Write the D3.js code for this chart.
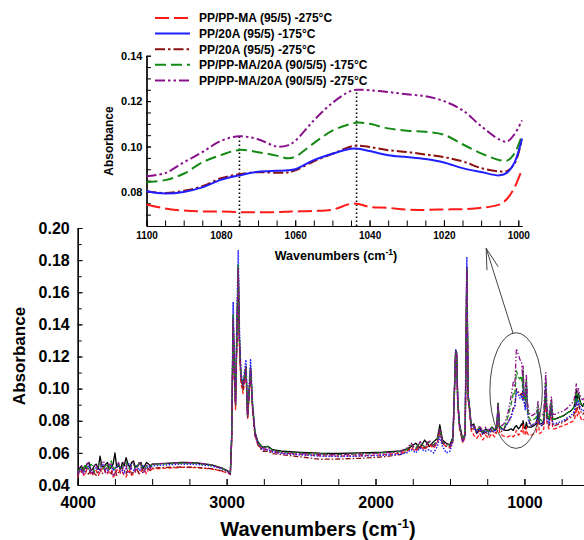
<!DOCTYPE html>
<html>
<head>
<meta charset="utf-8">
<script src="https://cdn.jsdelivr.net/npm/d3@7"></script>
<style>
body{margin:0;background:#fff}
svg{display:block}
</style>
</head>
<body>
<script>
let width = 584
let height = 540
let font = "'Liberation Sans', Arial, sans-serif"

// main spectrum: one wavenumber grid shared by every series
let mainWavenumbers = [
  4000,3988,3975,3962,3950,3938,3925,3912,3900,3888,3875,3862,3850,3838,3825,3812,3800,3788,3775,3762,
  3750,3738,3725,3712,3700,3688,3675,3662,3650,3638,3625,3612,3600,3588,3575,3562,3550,3538,3525,3512,3500,
  3400,3300,3200,3100,3030,2995,2982,
  2975,2966,2956,2948,2940,2930,2922,2914,2904,2890,2870,2859,2839,2826,2810,2790,2760,2721,2690,2620,
  2500,2374,2250,2100,1950,1830,
  1790,1760,1730,1700,1670,1640,1610,1585,1568,1550,1525,1500,
  1480,1470,1462,1455,1448,1436,1414,1398,1387,1378,1370,1357,
  1340,1320,1300,1280,1260,1240,1220,1200,1185,1177,1168,1150,1130,
  1110,1090,1075,1065,1054,1040,1030,1020,1013,1009,1003,994,987,980,970,955,935,920,909,898,
  885,870,857,848,835,819,810,795,770,740,710,690,670,660,652,645,637,628,618,608,600
]

let mainBlack = [
  .047,.050,.052,.049,.051,.053,.054,.049,.050,.052,.053,.050,.058,.052,.051,.053,.054,.050,.051,.053,
  .060,.051,.052,.050,.054,.052,.057,.053,.051,.054,.055,.051,.052,.053,.054,.050,.052,.054,.053,.052,.053,
  .0535,.054,.0537,.0525,.0505,.049,.048,
  .0475,.070,.145,.110,.091,.140,.176,.131,.108,.101,.114,.083,.113,.090,.073,.067,.0635,.064,.062,.061,
  .0603,.0598,.0596,.060,.0605,.0612,
  .0625,.064,.066,.063,.068,.064,.067,.069,.0775,.068,.066,.065,
  .070,.100,.124,.122,.093,.078,.068,.072,.176,.096,.090,.077,
  .078,.072,.076,.072,.075,.073,.076,.074,.077,.091,.077,.075,.074,
  .074,.075,.074,.076,.077,.075,.076,.078,.077,.080,.076,.075,.079,.076,.076,.076,.077,.078,.084,.078,
  .078,.080,.095,.082,.081,.090,.081,.081,.082,.083,.085,.086,.088,.091,.099,.092,.097,.093,.090,.089,.091
]

let mainRed = [
  .045,.048,.049,.046,.047,.050,.050,.047,.046,.049,.049,.046,.048,.050,.051,.047,.047,.049,.049,.045,
  .046,.049,.050,.047,.048,.046,.045,.048,.049,.046,.047,.049,.050,.047,.048,.050,.049,.047,.050,.049,.050,
  .0505,.051,.0508,.050,.0485,.0475,.047,
  .0465,.065,.138,.105,.087,.135,.170,.126,.104,.097,.110,.081,.110,.087,.071,.065,.062,.062,.0605,.0598,
  .059,.0582,.058,.0582,.0588,.0598,
  .061,.063,.061,.064,.062,.065,.063,.066,.073,.066,.064,.063,
  .067,.097,.121,.119,.090,.075,.066,.070,.172,.093,.087,.074,
  .071,.069,.072,.068,.071,.069,.072,.070,.073,.088,.073,.071,.070,
  .070,.071,.070,.071,.074,.071,.072,.074,.073,.078,.072,.071,.076,.072,.071,.071,.072,.073,.080,.072,
  .073,.075,.094,.078,.075,.087,.075,.075,.076,.077,.078,.079,.080,.082,.088,.083,.086,.083,.081,.080,.081
]

let mainBlue = [
  .046,.049,.050,.047,.049,.051,.052,.048,.048,.050,.051,.049,.050,.052,.053,.050,.049,.051,.052,.049,
  .050,.052,.053,.050,.049,.047,.051,.053,.053,.050,.049,.051,.052,.049,.050,.052,.051,.050,.052,.051,.052,
  .0525,.053,.0528,.0518,.050,.0485,.0475,
  .047,.072,.154,.115,.092,.148,.186,.138,.110,.103,.118,.084,.118,.092,.073,.066,.062,.062,.0605,.0595,
  .0588,.058,.0578,.058,.0585,.0592,
  .060,.062,.060,.063,.061,.062,.060,.064,.070,.064,.060,.061,
  .068,.099,.124,.122,.092,.077,.067,.071,.182,.096,.089,.076,
  .076,.073,.075,.072,.074,.072,.075,.073,.076,.089,.076,.074,.076,
  .079,.082,.087,.089,.099,.096,.094,.096,.093,.108,.092,.087,.103,.086,.079,.077,.078,.079,.087,.078,
  .077,.079,.104,.081,.078,.090,.078,.078,.079,.080,.082,.083,.085,.088,.094,.089,.093,.089,.087,.086,.087
]

let mainDarkRed = [
  .046,.049,.048,.051,.050,.047,.047,.050,.049,.047,.046,.049,.050,.047,.048,.050,.051,.048,.047,.050,
  .049,.046,.048,.050,.051,.049,.047,.050,.050,.047,.048,.050,.049,.047,.051,.049,.049,.051,.050,.049,.0505,
  .051,.0512,.051,.0502,.0488,.0478,.0472,
  .0468,.068,.142,.108,.089,.138,.173,.129,.106,.099,.112,.082,.111,.088,.071,.065,.061,.061,.0595,.0588,
  .0575,.056,.0562,.0566,.0575,.059,
  .061,.064,.062,.065,.063,.066,.064,.067,.074,.066,.064,.064,
  .068,.098,.122,.120,.091,.076,.067,.071,.174,.094,.088,.075,
  .075,.072,.074,.071,.073,.071,.074,.072,.075,.089,.075,.073,.076,
  .079,.083,.088,.088,.100,.098,.096,.097,.094,.109,.093,.089,.104,.087,.080,.077,.078,.079,.087,.078,
  .077,.078,.103,.080,.077,.089,.077,.077,.078,.079,.081,.082,.083,.086,.092,.087,.091,.087,.085,.084,.085
]

let mainGreen = [
  .047,.050,.051,.048,.053,.051,.050,.053,.052,.048,.049,.052,.054,.050,.050,.053,.052,.049,.055,.051,
  .050,.052,.053,.050,.051,.054,.054,.051,.050,.052,.053,.050,.051,.054,.053,.050,.050,.052,.052,.051,.053,
  .0533,.0537,.0535,.0523,.0503,.0488,.0478,
  .0472,.070,.146,.111,.090,.141,.177,.132,.108,.102,.114,.083,.113,.090,.073,.067,.063,.064,.0615,.0605,
  .0598,.0592,.059,.0594,.060,.0608,
  .062,.065,.063,.066,.064,.067,.065,.068,.075,.067,.065,.065,
  .069,.099,.123,.121,.092,.077,.068,.072,.175,.095,.089,.077,
  .077,.074,.076,.073,.075,.073,.076,.074,.077,.090,.077,.075,.077,
  .083,.090,.097,.096,.111,.107,.106,.108,.101,.112,.096,.092,.106,.089,.082,.080,.081,.082,.090,.081,
  .080,.082,.107,.084,.081,.093,.081,.081,.082,.083,.085,.086,.088,.091,.097,.092,.096,.092,.090,.089,.090
]

let mainPurple = [
  .046,.051,.052,.047,.048,.053,.054,.048,.047,.052,.053,.048,.049,.054,.055,.047,.048,.053,.053,.046,
  .047,.052,.054,.048,.049,.055,.052,.047,.048,.053,.054,.048,.050,.054,.052,.047,.049,.053,.053,.050,.053,
  .0536,.0541,.0538,.0524,.0502,.0487,.0477,
  .047,.069,.144,.110,.090,.140,.175,.131,.107,.101,.113,.082,.112,.089,.072,.066,.063,.063,.061,.060,
  .0595,.059,.0588,.0592,.0598,.0606,
  .063,.066,.062,.067,.063,.068,.064,.067,.075,.066,.066,.064,
  .069,.099,.123,.121,.092,.077,.068,.072,.175,.095,.089,.076,
  .077,.074,.077,.073,.076,.074,.076,.075,.077,.090,.078,.077,.079,
  .085,.095,.104,.101,.125,.121,.118,.117,.108,.114,.098,.095,.109,.092,.085,.083,.084,.085,.092,.083,
  .083,.085,.110,.087,.084,.095,.084,.084,.085,.086,.088,.090,.092,.096,.103,.097,.100,.096,.094,.093,.094
]

// inset (1100-1000 cm-1)
let insetWavenumbers = [1100,1095,1090,1085,1080,1075,1070,1065,1062,1060,1055,1050,1045,1043,1040,1035,1030,1025,1020,1015,1010,1005,1003,1001,999]
let insetRed     = [.0745,.0727,.0718,.0714,.0714,.0711,.0711,.0711,.0713,.0714,.0716,.0722,.0748,.0747,.0734,.0730,.0722,.0721,.0723,.0724,.0730,.0745,.0770,.0820,.0900]
let insetBlue    = [.0803,.0793,.0800,.0820,.0853,.0873,.0889,.0893,.0895,.0900,.0940,.0968,.0990,.0990,.0980,.0962,.0954,.0945,.0930,.0905,.0888,.0873,.0885,.0930,.1035]
let insetDarkRed = [.0803,.0795,.0805,.0825,.0860,.0878,.0887,.0884,.0886,.0895,.0935,.0968,.1000,.1004,.0998,.0984,.0976,.0965,.0953,.0935,.0905,.0890,.0892,.0925,.1030]
let insetGreen   = [.0843,.0852,.0880,.0930,.0962,.0985,.0975,.0960,.0948,.0955,.1015,.1070,.1100,.1106,.1100,.1080,.1070,.1065,.1052,.1010,.0970,.0940,.0938,.0970,.1050]
let insetPurple  = [.0869,.0883,.0930,.0975,.1025,.1045,.1032,.1000,.1005,.1025,.1115,.1192,.1245,.1250,.1248,.1240,.1230,.1222,.1200,.1160,.1090,.1030,.1022,.1055,.1115]

// dotted guide lines in the inset (wavenumber, height reached)
let markerWavenumbers = [1075, 1043.5]
let markerTops = [0.1045, 0.125]

let seriesNames = [
  "PP/PP-MA (95/5) -275°C",
  "PP/20A (95/5) -175°C",
  "PP/20A (95/5) -275°C",
  "PP/PP-MA/20A (90/5/5) -175°C",
  "PP/PP-MA/20A (90/5/5) -275°C"
]

// tick labels
let mainXTicks = [4000, 3000, 2000, 1000]
let mainYTicks = [0.04, 0.06, 0.08, 0.10, 0.12, 0.14, 0.16, 0.18, 0.20]
let insetXTicks = [1100, 1080, 1060, 1040, 1020, 1000]
let insetYTicks = [0.08, 0.10, 0.12, 0.14]

// circled region + arrow, in data units of the main plot
let circleCenter = [1056, 0.0988]
let circleRadius = [176, 0.036]
let arrowFrom = [1077, 0.1346]
let arrowTo = [1257, 0.1874]

// styles
let colors = {red:"#ff1a1a", blue:"#1f1fff", darkred:"#8b1010", green:"#138a13", purple:"#8a108a", black:"#000"}
let insetDash = {red:"14,5", blue:null, darkred:"10,3,2.5,3", green:"11,5", purple:"10,3,2.5,3,2.5,3"}
let mainDash = {red:"4,2", blue:"1.5,1.5", darkred:"5,2,1.5,2", green:"5,2.5", purple:"5,2,1.5,2,1.5,2", black:null}

let svg = d3.select("body").append("svg")
    .attr("width", width)
    .attr("height", height)

let x = d3.scaleLinear().domain([4000, 600]).range([77.7, 584])
let y = d3.scaleLinear().domain([0.04, 0.20]).range([485, 228])

let ix = d3.scaleLinear().domain([1100, 999]).range([146.5, 522])
let iy = d3.scaleLinear().domain([0.065, 0.14]).range([226, 55.7])

drawMain()
drawInset()
drawLegend()

function styleAxis(g, size){
    g.attr("font-family", font).attr("font-size", size).attr("font-weight", "bold")
    g.selectAll("path, line").attr("stroke", "#000")
    g.select(".domain").attr("stroke-width", 1.2)
}

function drawMain(){
    // minor ticks first, then labelled ones
    svg.append("g")
        .attr("transform", "translate(0,485)")
        .call(d3.axisBottom(x).tickValues(d3.range(4000, 599, -250)).tickSize(-6).tickSizeOuter(0).tickFormat(""))
        .call(g => styleAxis(g, 16))
    svg.append("g")
        .attr("transform", "translate(0,485)")
        .call(d3.axisBottom(x).tickValues(mainXTicks).tickSize(-6).tickSizeOuter(0).tickPadding(12).tickFormat(d3.format("d")))
        .call(g => styleAxis(g, 16))

    svg.append("g")
        .attr("transform", "translate(77.7,0)")
        .call(d3.axisLeft(y).tickValues(d3.range(4, 21).map(d => d / 100)).tickSize(-4).tickSizeOuter(0).tickFormat(""))
        .call(g => styleAxis(g, 16))
    svg.append("g")
        .attr("transform", "translate(77.7,0)")
        .call(d3.axisLeft(y).tickValues(mainYTicks).tickSize(-5).tickSizeOuter(0).tickPadding(8).tickFormat(d3.format(".2f")))
        .call(g => styleAxis(g, 16))

    let line = d3.line()
        .x((d, i) => x(mainWavenumbers[i]))
        .y(d => y(d))

    // black underneath, purple on top like the noisy band in the original
    let series = [
        {key:"black", values:mainBlack},
        {key:"red", values:mainRed},
        {key:"darkred", values:mainDarkRed},
        {key:"blue", values:mainBlue},
        {key:"green", values:mainGreen},
        {key:"purple", values:mainPurple}
    ]

    svg.append("g").selectAll("path")
        .data(series)
        .enter()
        .append("path")
        .attr("fill", "none")
        .attr("stroke", d => colors[d.key])
        .attr("stroke-width", d => d.key == "blue" ? 1.5 : 1.3)
        .attr("stroke-dasharray", d => mainDash[d.key])
        .attr("stroke-linejoin", "round")
        .attr("d", d => line(d.values))

    // circled region and pointer to the inset
    svg.append("ellipse")
        .attr("cx", x(circleCenter[0]))
        .attr("cy", y(circleCenter[1]))
        .attr("rx", x(circleCenter[0] - circleRadius[0]) - x(circleCenter[0]))
        .attr("ry", y(circleCenter[1]) - y(circleCenter[1] + circleRadius[1]))
        .attr("fill", "none")
        .attr("stroke", "#444")
        .attr("stroke-width", 1)

    let tail = [x(arrowFrom[0]), y(arrowFrom[1])]
    let tip = [x(arrowTo[0]), y(arrowTo[1])]
    let ang = Math.atan2(tail[1] - tip[1], tail[0] - tip[0])
    let head = 22, spread = 0.27
    let arrow = d3.path()
    arrow.moveTo(tail[0], tail[1])
    arrow.lineTo(tip[0], tip[1])
    arrow.moveTo(tip[0] + head * Math.cos(ang - spread), tip[1] + head * Math.sin(ang - spread))
    arrow.lineTo(tip[0], tip[1])
    arrow.lineTo(tip[0] + head * Math.cos(ang + spread), tip[1] + head * Math.sin(ang + spread))
    svg.append("path")
        .attr("d", arrow.toString())
        .attr("fill", "none")
        .attr("stroke", "#444")
        .attr("stroke-width", 1)

    svg.append("text")
        .attr("transform", "translate(25,356) rotate(-90)")
        .attr("text-anchor", "middle")
        .attr("font-family", font).attr("font-weight", "bold").attr("font-size", 17)
        .text("Absorbance")

    let xl = svg.append("text")
        .attr("x", 318).attr("y", 536)
        .attr("text-anchor", "middle")
        .attr("font-family", font).attr("font-weight", "bold").attr("font-size", 20)
    xl.append("tspan").text("Wavenumbers (cm")
    xl.append("tspan").attr("font-size", 13).attr("dy", -8).text("-1")
    xl.append("tspan").attr("dy", 8).text(")")
}

function drawInset(){
    svg.append("g")
        .attr("transform", "translate(0,226)")
        .call(d3.axisBottom(ix).tickValues(d3.range(1100, 999, -5)).tickSize(-5.5).tickSizeOuter(0).tickFormat(""))
        .call(g => styleAxis(g, 10))
    svg.append("g")
        .attr("transform", "translate(0,226)")
        .call(d3.axisBottom(ix).tickValues(insetXTicks).tickSize(-5.5).tickSizeOuter(0).tickPadding(5.5).tickFormat(d3.format("d")))
        .call(g => styleAxis(g, 10))

    svg.append("g")
        .attr("transform", "translate(146.5,0)")
        .call(d3.axisLeft(iy).tickValues(d3.range(14, 29).map(d => d * 0.005)).tickSize(-4.5).tickSizeOuter(0).tickFormat(""))
        .call(g => styleAxis(g, 11))
    svg.append("g")
        .attr("transform", "translate(146.5,0)")
        .call(d3.axisLeft(iy).tickValues(insetYTicks).tickSize(-4.5).tickSizeOuter(0).tickPadding(4).tickFormat(d3.format(".2f")))
        .call(g => styleAxis(g, 11))

    // dotted guides from the axis up to the peaks
    svg.append("g").selectAll("line")
        .data(markerWavenumbers)
        .enter()
        .append("line")
        .attr("x1", d => ix(d)).attr("x2", d => ix(d))
        .attr("y1", iy(0.065))
        .attr("y2", (d, i) => iy(markerTops[i]))
        .attr("stroke", "#000")
        .attr("stroke-width", 1.6)
        .attr("stroke-dasharray", "1.6,2.4")

    let line = d3.line()
        .x((d, i) => ix(insetWavenumbers[i]))
        .y(d => iy(d))
        .curve(d3.curveCatmullRom.alpha(0.5))

    let series = [
        {key:"red", values:insetRed},
        {key:"green", values:insetGreen},
        {key:"purple", values:insetPurple},
        {key:"darkred", values:insetDarkRed},
        {key:"blue", values:insetBlue}
    ]

    svg.append("g").selectAll("path")
        .data(series)
        .enter()
        .append("path")
        .attr("fill", "none")
        .attr("stroke", d => colors[d.key])
        .attr("stroke-width", 2)
        .attr("stroke-dasharray", d => insetDash[d.key])
        .attr("d", d => line(d.values))

    svg.append("text")
        .attr("transform", "translate(112.5,141) rotate(-90)")
        .attr("text-anchor", "middle")
        .attr("font-family", font).attr("font-weight", "bold").attr("font-size", 12)
        .text("Absorbance")

    let xl = svg.append("text")
        .attr("x", 336).attr("y", 260)
        .attr("text-anchor", "middle")
        .attr("font-family", font).attr("font-weight", "bold").attr("font-size", 12.5)
    xl.append("tspan").text("Wavenumbers (cm")
    xl.append("tspan").attr("font-size", 8.5).attr("dy", -5).text("-1")
    xl.append("tspan").attr("dy", 5).text(")")
}

function drawLegend(){
    let keys = ["red", "blue", "darkred", "green", "purple"]
    let rows = svg.append("g").selectAll("g")
        .data(keys)
        .enter()
        .append("g")
        .attr("transform", (d, i) => "translate(0," + (18 + i * 15.6) + ")")

    rows.append("line")
        .attr("x1", 155).attr("x2", 190)
        .attr("y1", 0).attr("y2", 0)
        .attr("stroke", d => colors[d])
        .attr("stroke-width", 2)
        .attr("stroke-dasharray", d => insetDash[d])

    rows.append("text")
        .attr("x", 199).attr("y", 4.3)
        .attr("font-family", font).attr("font-weight", "bold").attr("font-size", 12)
        .text((d, i) => seriesNames[i])
}
</script>
</body>
</html>
